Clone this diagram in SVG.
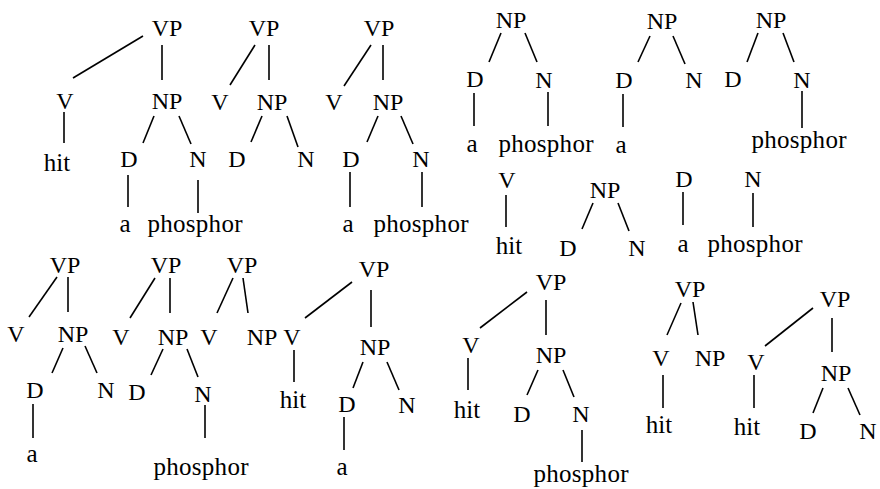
<svg xmlns="http://www.w3.org/2000/svg" width="880" height="489" viewBox="0 0 880 489">
<style>
text{font-family:'Liberation Serif','Times New Roman',Times,'DejaVu Serif',serif;font-size:24px;fill:#000;text-anchor:middle}
text.w{font-size:25px}
line{stroke:#000;stroke-width:1.6;stroke-linecap:butt}
</style>
<rect width="880" height="489" fill="#fff"/>
<g id="connectors">
<line x1="143" y1="36" x2="73" y2="78"/><line x1="162" y1="45" x2="162" y2="80"/><line x1="64" y1="112" x2="64" y2="143"/><line x1="154" y1="116" x2="143" y2="143"/><line x1="179" y1="116" x2="191" y2="144"/><line x1="128" y1="175" x2="128" y2="207"/><line x1="198" y1="180" x2="198" y2="213"/>
<line x1="255" y1="45" x2="230" y2="85"/><line x1="269" y1="45" x2="269" y2="80"/><line x1="262" y1="116" x2="251" y2="142"/><line x1="287" y1="116" x2="298" y2="147"/>
<line x1="371" y1="45" x2="344" y2="86"/><line x1="383" y1="45" x2="383" y2="80"/><line x1="378" y1="116" x2="367" y2="142"/><line x1="401" y1="116" x2="413" y2="144"/><line x1="350" y1="172" x2="350" y2="207"/><line x1="422" y1="172" x2="422" y2="207"/>
<line x1="501" y1="33" x2="489" y2="62"/><line x1="525" y1="33" x2="537" y2="62"/><line x1="474" y1="93" x2="474" y2="126"/><line x1="548" y1="92" x2="548" y2="126"/>
<line x1="650" y1="36" x2="638" y2="62"/><line x1="673" y1="36" x2="685" y2="64"/><line x1="623" y1="94" x2="623" y2="127"/>
<line x1="758" y1="33" x2="747" y2="62"/><line x1="783" y1="33" x2="794" y2="62"/><line x1="802" y1="91" x2="802" y2="128"/>
<line x1="506" y1="195" x2="506" y2="227"/>
<line x1="593" y1="203" x2="582" y2="229"/><line x1="618" y1="203" x2="629" y2="231"/>
<line x1="683" y1="192" x2="683" y2="225"/>
<line x1="753" y1="193" x2="753" y2="227"/>
<line x1="57" y1="277" x2="29" y2="317"/><line x1="68" y1="277" x2="68" y2="312"/><line x1="63" y1="348" x2="52" y2="373"/><line x1="85" y1="346" x2="97" y2="373"/><line x1="33" y1="404" x2="33" y2="438"/>
<line x1="155" y1="278" x2="130" y2="318"/><line x1="170" y1="278" x2="170" y2="313"/><line x1="163" y1="349" x2="151" y2="375"/><line x1="187" y1="349" x2="198" y2="377"/><line x1="205" y1="405" x2="205" y2="438"/>
<line x1="233" y1="278" x2="217" y2="313"/><line x1="243" y1="278" x2="248" y2="313"/>
<line x1="352" y1="282" x2="305" y2="318"/><line x1="371" y1="290" x2="371" y2="327"/><line x1="294" y1="350" x2="294" y2="382"/><line x1="363" y1="362" x2="353" y2="388"/><line x1="387" y1="362" x2="399" y2="390"/><line x1="344" y1="417" x2="344" y2="450"/>
<line x1="527" y1="292" x2="480" y2="328"/><line x1="546" y1="300" x2="546" y2="335"/><line x1="468" y1="358" x2="468" y2="390"/><line x1="538" y1="370" x2="527" y2="395"/><line x1="563" y1="370" x2="574" y2="397"/><line x1="582" y1="430" x2="582" y2="462"/>
<line x1="681" y1="303" x2="667" y2="335"/><line x1="693" y1="302" x2="698" y2="335"/><line x1="663" y1="375" x2="663" y2="408"/>
<line x1="813" y1="308" x2="765" y2="346"/><line x1="832" y1="318" x2="832" y2="352"/><line x1="754" y1="375" x2="754" y2="408"/><line x1="823" y1="388" x2="813" y2="413"/><line x1="848" y1="388" x2="860" y2="415"/>
</g>
<g id="t1"><text x="167" y="36">VP</text><text x="65" y="109">V</text><text x="167" y="109">NP</text><text class="w" x="57" y="171">hit</text><text x="129" y="167">D</text><text x="198" y="167">N</text><text class="w" x="125" y="232">a</text><text class="w" x="195" y="232" textLength="95">phosphor</text></g>
<g id="t2"><text x="264" y="36">VP</text><text x="220" y="110">V</text><text x="272" y="110">NP</text><text x="237" y="167">D</text><text x="306" y="167">N</text></g>
<g id="t3"><text x="379" y="36">VP</text><text x="334" y="110">V</text><text x="388" y="110">NP</text><text x="351" y="167">D</text><text x="421" y="167">N</text><text class="w" x="348" y="232">a</text><text class="w" x="421" y="232" textLength="95">phosphor</text></g>
<g id="t4"><text x="511" y="28">NP</text><text x="475" y="87">D</text><text x="544" y="88">N</text><text class="w" x="472" y="152">a</text><text class="w" x="546" y="152" textLength="95">phosphor</text></g>
<g id="t5"><text x="662" y="29">NP</text><text x="624" y="88">D</text><text x="694" y="88">N</text><text class="w" x="621" y="153">a</text></g>
<g id="t6"><text x="771" y="28">NP</text><text x="733" y="87">D</text><text x="802" y="88">N</text><text class="w" x="799" y="148" textLength="95">phosphor</text></g>
<g id="t7"><text x="507" y="188">V</text><text class="w" x="509" y="254">hit</text></g>
<g id="t8"><text x="605" y="198">NP</text><text x="568" y="256">D</text><text x="637" y="256">N</text></g>
<g id="t9"><text x="684" y="187">D</text><text class="w" x="683" y="252">a</text></g>
<g id="t10"><text x="753" y="187">N</text><text class="w" x="755" y="252" textLength="95">phosphor</text></g>
<g id="t11"><text x="65" y="273">VP</text><text x="16" y="342">V</text><text x="73" y="342">NP</text><text x="35" y="398">D</text><text x="106" y="398">N</text><text class="w" x="32" y="462">a</text></g>
<g id="t12"><text x="166" y="273">VP</text><text x="121" y="345">V</text><text x="173" y="345">NP</text><text x="137" y="400">D</text><text x="203" y="402">N</text><text class="w" x="201" y="475" textLength="95">phosphor</text></g>
<g id="t13"><text x="242" y="273">VP</text><text x="209" y="345">V</text><text x="262" y="345">NP</text></g>
<g id="t14"><text x="374" y="277">VP</text><text x="292" y="345">V</text><text x="375" y="355">NP</text><text class="w" x="293" y="408">hit</text><text x="347" y="412">D</text><text x="407" y="413">N</text><text class="w" x="342" y="475">a</text></g>
<g id="t15"><text x="551" y="290">VP</text><text x="471" y="353">V</text><text x="551" y="363">NP</text><text class="w" x="467" y="418">hit</text><text x="522" y="422">D</text><text x="581" y="422">N</text><text class="w" x="581" y="482" textLength="95">phosphor</text></g>
<g id="t16"><text x="690" y="297">VP</text><text x="661" y="366">V</text><text x="710" y="366">NP</text><text class="w" x="659" y="433">hit</text></g>
<g id="t17"><text x="835" y="307">VP</text><text x="756" y="370">V</text><text x="836" y="381">NP</text><text class="w" x="747" y="435">hit</text><text x="808" y="439">D</text><text x="868" y="439">N</text></g>
</svg>
